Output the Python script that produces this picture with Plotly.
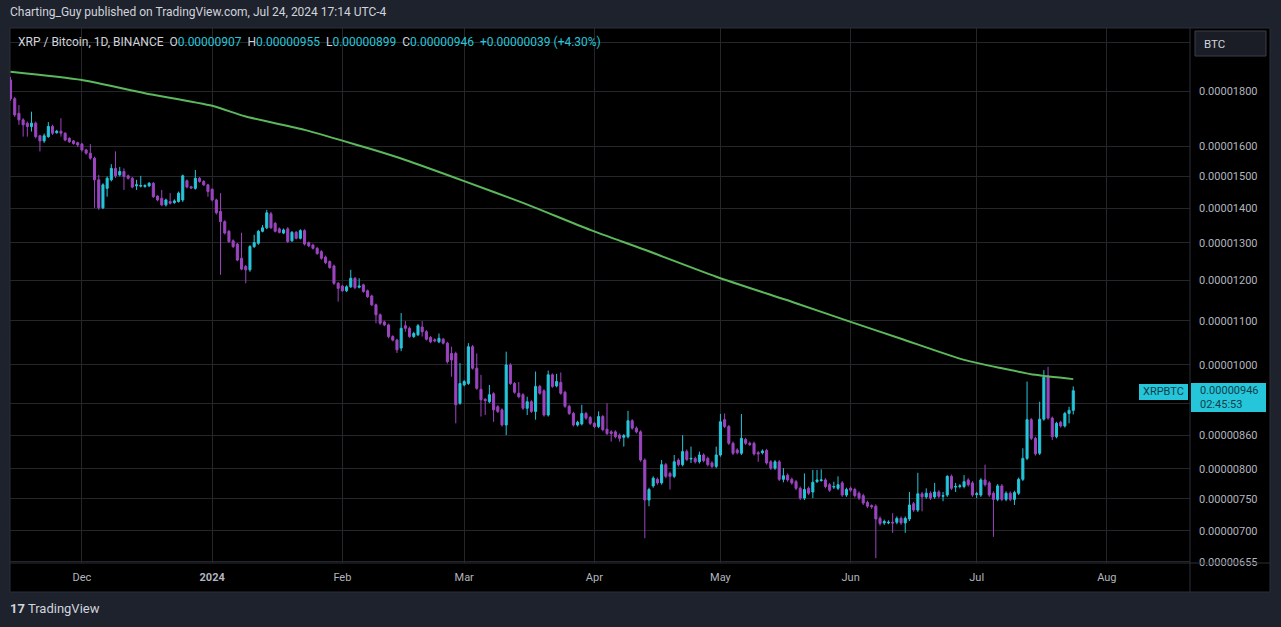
import plotly.graph_objects as go
import pandas as pd

# ---------------- data (prices in satoshi = 1e-8 BTC) ----------------
dates = pd.date_range("2023-11-14", "2024-07-24", freq="D")

opens = [1846,1773,1718,1694,1682,1670,1682,1637,1619,1634,1670,1648,1653,1646,1628,1619,1613,1608,1588,1577,
         1560,1489,1402,1462,1489,1526,1505,1516,1502,1494,1470,1469,1468,1470,1478,1438,1431,1411,1421,1418,
         1421,1426,1486,1467,1462,1494,1484,1473,1459,1426,1391,1361,1333,1306,1297,1258,1236,1227,1290,1299,
         1333,1343,1384,1356,1340,1328,1340,1306,1330,1313,1335,1301,1294,1285,1276,1261,1249,1237,1192,1185,
         1173,1183,1205,1182,1188,1173,1160,1138,1114,1097,1090,1063,1055,1037,1088,1082,1063,1067,1085,1074,
         1061,1056,1051,1057,1048,1025,1025,921,958,961,1040,993,949,929,924,940,914,908,879,1000,
         961,941,938,911,924,905,955,946,898,979,956,963,943,915,901,879,881,901,893,882,
         876,895,871,866,866,860,856,857,887,873,866,815,748,771,782,776,807,792,787,815,
         807,830,817,818,812,824,818,810,804,824,889,876,845,833,827,852,845,845,828,828,
         832,812,801,812,782,789,782,778,767,751,767,761,778,780,781,773,769,767,776,756,
         767,765,759,755,744,739,738,719,712,712,713,713,719,712,718,742,732,758,753,759,
         753,761,754,756,787,769,770,770,781,776,757,756,781,776,759,749,771,749,759,749,
         759,782,818,889,854,827,890,977,892,857,884,877,901,907]
highs = [1858,1780,1749,1700,1688,1724,1688,1640,1645,1686,1676,1658,1700,1650,1632,1622,1616,1612,1592,1608,
         1565,1505,1478,1500,1540,1583,1531,1526,1506,1498,1489,1502,1475,1482,1482,1440,1457,1430,1447,1428,
         1452,1506,1490,1470,1521,1498,1488,1476,1462,1430,1447,1365,1337,1310,1300,1329,1240,1294,1323,1337,
         1351,1396,1390,1360,1344,1341,1345,1334,1334,1339,1339,1304,1298,1289,1280,1265,1252,1241,1195,1188,
         1187,1227,1208,1205,1191,1176,1163,1141,1117,1100,1093,1066,1058,1118,1099,1086,1074,1092,1099,1078,
         1064,1059,1070,1060,1051,1040,1029,1004,968,1048,1044,1025,979,931,958,943,917,911,1029,1004,
         964,964,941,934,927,986,958,949,988,982,981,984,946,918,904,887,918,904,896,885,
         905,898,921,869,869,863,862,906,890,876,869,818,768,787,785,815,810,795,824,818,
         860,834,839,821,830,827,821,813,839,900,901,879,848,836,900,855,848,848,831,834,
         835,815,815,815,801,792,785,781,770,792,770,798,798,799,784,776,778,787,779,768,
         770,768,762,758,747,741,741,722,717,716,727,722,722,722,761,745,793,761,767,762,
         776,764,761,789,790,776,774,789,784,779,761,784,807,779,762,774,774,762,762,763,
         785,836,965,892,857,924,989,996,895,885,887,904,914,955]
lows = [1765,1705,1676,1634,1634,1652,1628,1583,1612,1630,1640,1644,1634,1618,1612,1606,1598,1582,1572,1555,
        1402,1396,1398,1436,1484,1495,1500,1457,1490,1462,1457,1465,1464,1466,1432,1422,1407,1406,1412,1414,
        1418,1420,1462,1460,1458,1480,1470,1436,1422,1382,1214,1324,1300,1286,1250,1226,1192,1222,1286,1295,
        1330,1339,1340,1330,1327,1325,1300,1303,1310,1310,1293,1288,1282,1267,1254,1242,1230,1188,1146,1170,
        1170,1180,1177,1179,1168,1155,1135,1094,1090,1087,1059,1052,1026,1030,1074,1060,1060,1064,1063,1054,
        1048,1050,1048,1045,1003,975,882,918,955,958,990,948,895,898,921,885,902,876,860,958,
        940,931,908,898,902,889,938,895,895,952,953,938,912,898,876,876,878,889,879,873,
        873,867,860,848,854,848,839,854,870,863,812,689,738,768,773,773,784,765,784,804,
        804,813,810,809,809,811,804,801,801,821,873,842,824,825,824,842,840,823,812,825,
        807,798,798,779,777,778,773,764,748,748,756,751,776,778,767,761,766,764,753,753,
        761,752,748,740,735,734,660,708,709,710,697,710,709,697,715,729,729,730,750,748,
        750,751,746,753,764,761,767,767,770,753,751,753,770,753,691,746,746,746,746,740,
        756,779,815,851,823,824,887,889,851,854,874,874,882,899]
closes = [1773,1712,1694,1676,1670,1682,1634,1619,1637,1670,1646,1653,1646,1622,1616,1610,1605,1588,1577,1560,
          1489,1402,1473,1494,1526,1502,1516,1500,1494,1466,1473,1471,1471,1478,1436,1426,1411,1426,1416,1423,
          1447,1502,1466,1463,1494,1484,1473,1452,1426,1387,1361,1328,1304,1290,1253,1229,1227,1290,1301,1333,
          1343,1387,1343,1333,1330,1337,1304,1330,1313,1335,1297,1292,1285,1271,1258,1246,1233,1192,1179,1173,
          1183,1205,1181,1185,1171,1158,1138,1114,1094,1090,1063,1055,1033,1082,1082,1063,1070,1088,1074,1057,
          1051,1053,1059,1048,1007,1011,918,961,965,1040,993,951,928,926,938,908,905,879,1000,961,
          943,934,911,924,905,955,941,898,979,955,965,941,915,901,879,884,901,892,882,876,
          895,870,863,863,857,854,859,887,873,866,815,748,765,784,776,807,787,787,812,807,
          830,816,818,812,824,814,807,804,824,885,876,845,827,828,854,845,843,826,826,831,
          810,801,812,782,788,781,776,767,751,765,759,777,781,781,770,764,770,773,756,765,
          764,755,751,743,738,737,718,711,714,713,712,719,712,719,740,732,758,753,759,751,
          761,754,755,787,767,770,771,778,773,756,758,781,773,756,749,771,749,759,749,760,
          782,818,889,854,826,890,974,892,857,882,877,901,907,946]

# 200-day moving average (satoshi)
ma_dates = ["2023-11-14", "2023-12-01", "2023-12-16", "2024-01-01", "2024-01-09", "2024-01-23",
            "2024-02-01", "2024-02-08", "2024-02-16", "2024-03-01", "2024-03-15", "2024-03-31",
            "2024-04-13", "2024-04-30", "2024-05-19", "2024-06-01", "2024-06-13", "2024-06-28",
            "2024-07-07", "2024-07-15", "2024-07-24"]
ma_vals = [1879, 1846, 1794, 1746, 1706, 1658, 1620, 1590, 1554, 1485, 1417, 1337,
           1281, 1209, 1142, 1097, 1058, 1011, 993, 979, 970]

ytick_sats = [2000, 1800, 1600, 1500, 1400, 1300, 1200, 1100, 1000, 920, 860, 800, 750, 700, 655]
ytick_hidden = [2000, 920]
month_ticks = ["2023-12-01", "2024-01-01", "2024-02-01", "2024-03-01", "2024-04-01",
               "2024-05-01", "2024-06-01", "2024-07-01", "2024-08-01"]
month_labels = ["Dec", "<b>2024</b>", "Feb", "Mar", "Apr", "May", "Jun", "Jul", "Aug"]

SAT = 1e-8
UP = "#26c6da"
DOWN = "#9c45c0"
FONT = "Roboto"

# ---------------- geometry helpers (pixels -> paper) ----------------
W, H = 1281, 627
PL, PR, PT, PB = 10, 1190, 28, 563


def px(x):
    return (x - PL) / (PR - PL)


def py(y):
    return (PB - y) / (PB - PT)


fig = go.Figure()
fig.add_trace(go.Candlestick(
    x=dates,
    open=[v * SAT for v in opens], high=[v * SAT for v in highs],
    low=[v * SAT for v in lows], close=[v * SAT for v in closes],
    increasing=dict(line=dict(color=UP, width=1), fillcolor=UP),
    decreasing=dict(line=dict(color=DOWN, width=1), fillcolor=DOWN),
    whiskerwidth=0, showlegend=False, hoverinfo="skip",
))
fig.add_trace(go.Scatter(
    x=pd.to_datetime(ma_dates), y=[v * SAT for v in ma_vals], mode="lines",
    line=dict(color="#5cb85c", width=2, shape="spline", smoothing=0.6),
    showlegend=False, hoverinfo="skip",
))

ytext = ["" if v in ytick_hidden else "%.8f" % (v * SAT) for v in ytick_sats]

fig.update_layout(
    width=W, height=H,
    margin=dict(l=PL, r=W - PR, t=PT, b=H - PB),
    paper_bgcolor="#1e222d", plot_bgcolor="#000000",
    font=dict(family=FONT, color="#b2b5be", size=11),
    xaxis=dict(
        type="date", range=["2023-11-13 21:00", "2024-08-20 19:00"],
        rangeslider=dict(visible=False),
        tickvals=pd.to_datetime(month_ticks), ticktext=month_labels,
        showgrid=True, gridcolor="#252629", gridwidth=1, zeroline=False,
        showline=False, ticks="", ticklabelstandoff=6,
        tickfont=dict(size=11, color="#b2b5be", family=FONT),
    ),
    yaxis=dict(
        type="log", side="right", range=[-5.18495, -4.68529],
        tickvals=[v * SAT for v in ytick_sats], ticktext=ytext,
        showgrid=True, gridcolor="#252629", gridwidth=1, zeroline=False,
        showline=False, ticks="", ticklabelstandoff=8,
        tickfont=dict(size=11, color="#b2b5be", family=FONT),
    ),
    hovermode=False,
)

shapes = [
    # black chart panel
    dict(type="rect", xref="paper", yref="paper", x0=px(10), x1=px(1270), y0=py(592), y1=py(28),
         fillcolor="#000000", line=dict(color="#2a2e39", width=1), layer="below"),
    # price-axis separator
    dict(type="line", xref="paper", yref="paper", x0=px(1190), x1=px(1190), y0=py(592), y1=py(28),
         line=dict(color="#2a2e39", width=1)),
    # time-axis separator
    dict(type="line", xref="paper", yref="paper", x0=px(10), x1=px(1270), y0=py(563), y1=py(563),
         line=dict(color="#2a2e39", width=1)),
    # BTC button
    dict(type="rect", xref="paper", yref="paper", x0=px(1195), x1=px(1266), y0=py(56), y1=py(31),
         fillcolor="#1a1d25", line=dict(color="#3a3e4a", width=1)),
    # symbol label
    dict(type="rect", xref="paper", yref="paper", x0=px(1139), x1=px(1188), y0=py(400), y1=py(384),
         fillcolor=UP, line=dict(width=0)),
    # last price box
    dict(type="rect", xref="paper", yref="paper", x0=px(1191), x1=px(1266), y0=py(412), y1=py(383),
         fillcolor=UP, line=dict(width=0)),
]
fig.update_layout(shapes=shapes)

o, h, l, c = opens[-1], highs[-1], lows[-1], closes[-1]
chg = c - closes[-2]
pct = chg / closes[-2] * 100
sp = "\u00a0"
val = lambda s: "<span style='color:%s'>%s</span>" % (UP, s)
legend = ("XRP / Bitcoin, 1D, BINANCE" + sp * 2 + "O" + val("%.8f" % (o * SAT)) + sp * 2 +
          "H" + val("%.8f" % (h * SAT)) + sp * 2 + "L" + val("%.8f" % (l * SAT)) + sp * 2 +
          "C" + val("%.8f" % (c * SAT)) + sp * 2 +
          val("%+.8f (%+.2f%%)" % (chg * SAT, pct)))

ann = [
    dict(text="Charting_Guy published on TradingView.com, Jul 24, 2024 17:14 UTC-4",
         x=px(8), y=py(12), xanchor="left", yanchor="middle",
         font=dict(size=12, color="#d1d4dc", family=FONT)),
    dict(text=legend, x=px(16), y=py(42), xanchor="left", yanchor="middle",
         font=dict(size=12, color="#d1d4dc", family=FONT)),
    dict(text="BTC", x=px(1202), y=py(44), xanchor="left", yanchor="middle",
         font=dict(size=11.5, color="#d1d4dc", family=FONT)),
    dict(text="XRPBTC", x=px(1163.5), y=py(392), xanchor="center", yanchor="middle",
         font=dict(size=11, color="#0d3f4a", family=FONT)),
    dict(text="%.8f<br>02:45:53" % (c * SAT), x=px(1198), y=py(397.5), xanchor="left", yanchor="middle",
         align="left", font=dict(size=11, color="#0d3f4a", family=FONT)),
    dict(text="<b>17</b> TradingView", x=px(8), y=py(608), xanchor="left", yanchor="middle",
         font=dict(size=13, color="#d1d4dc", family=FONT)),
]
for a in ann:
    a.update(xref="paper", yref="paper", showarrow=False)
fig.update_layout(annotations=ann)

fig.write_html("out.html")
